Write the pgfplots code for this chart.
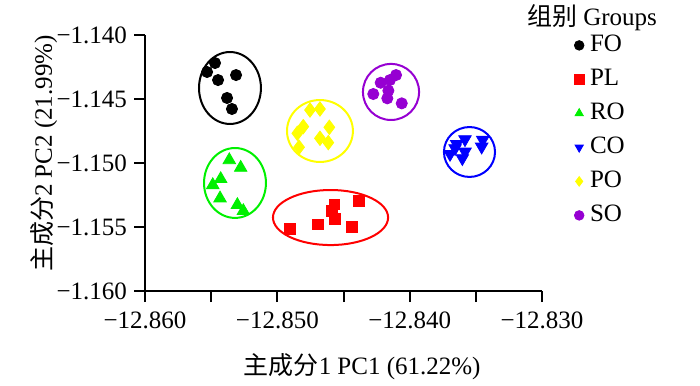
\documentclass[border=0pt]{standalone}
\usepackage{fontspec}
\setmainfont{Liberation Serif}
\newfontfamily\cjk{Noto Sans CJK SC}
\usepackage{pgfplots}
\pgfplotsset{compat=1.18}
\definecolor{cFO}{RGB}{0,0,0}
\definecolor{cPL}{RGB}{255,0,0}
\definecolor{cRO}{RGB}{0,240,0}
\definecolor{cCO}{RGB}{0,0,255}
\definecolor{cPO}{RGB}{255,255,0}
\definecolor{cSO}{RGB}{150,0,210}
\pgfplotsset{myleg/.style={only marks, legend image code/.code={\draw[##1,mark size=2.4pt] plot coordinates {(0pt,0pt)};}}}
\newcommand{\fs}{\fontsize{12.5}{14}\selectfont}
\begin{document}
\begin{tikzpicture}
\path[use as bounding box] (0,0) rectangle (350pt,192.5pt);
\begin{axis}[
  at={(72.5pt,47pt)}, anchor=south west,
  scale only axis, width=198.5pt, height=128pt,
  xmin=-12.86, xmax=-12.83, ymin=-1.16, ymax=-1.14,
  axis x line*=bottom, axis y line*=left,
  axis line style={-, line width=1pt},
  clip=false,
  xtick={-12.86,-12.85,-12.84,-12.83},
  xticklabels={−12.860,−12.850,−12.840,−12.830},
  minor xtick={-12.855,-12.845,-12.835},
  ytick={-1.16,-1.155,-1.15,-1.145,-1.14},
  yticklabels={−1.160,−1.155,−1.150,−1.145,−1.140},
  tick align=outside,
  major tick length=5.5pt, minor tick length=5.5pt,
  every tick/.style={black, line width=1pt},
  tick label style={font=\fs},
  xticklabel style={yshift=-1.5pt},
  xlabel={{\cjk 主成分}1 PC1 (61.22\%)},
  ylabel={{\cjk 主成分}2 PC2 (21.99\%)},
  label style={font=\fs},
  xlabel style={at={(axis description cs:0.547,-0.297)}, anchor=center},
  ylabel style={at={(axis description cs:-0.254,0.537)}, anchor=center},
  legend style={at={(rel axis cs:1.0806,1.0078)}, anchor=north west,
    draw=none, fill=none, inner sep=0pt, row sep=5pt, column sep=0pt,
    font=\fs,
    nodes={inner ysep=0pt, inner xsep=3pt, text height=9pt, text depth=3pt}},
  legend cell align=left,
]
\addplot[myleg, mark=*, mark size=2.8pt, color=cFO] coordinates {
(-12.85471,-1.14219) (-12.85531,-1.14289) (-12.85448,-1.14352)
(-12.85312,-1.14313) (-12.85380,-1.14492) (-12.85343,-1.14578)};
\addlegendentry{FO}
\addplot[myleg, mark=square*, mark size=2.7pt, color=cPL] coordinates {
(-12.84904,-1.15516) (-12.84695,-1.15479) (-12.84569,-1.15323)
(-12.84585,-1.15375) (-12.84564,-1.15438) (-12.84438,-1.15498)
(-12.84383,-1.15297)};
\addlegendentry{PL}
\addplot[myleg, mark=triangle*, mark size=3.6pt, color=cRO] coordinates {
(-12.85363,-1.14977) (-12.85277,-1.15037) (-12.85428,-1.15125)
(-12.85488,-1.15172) (-12.85433,-1.15276) (-12.85302,-1.15328)
(-12.85257,-1.15375)};
\addlegendentry{RO}
\addplot[myleg, mark=triangle*, mark options={rotate=180}, mark size=3.6pt, color=cCO] coordinates {
(-12.83582,-1.14815) (-12.83645,-1.14852) (-12.83657,-1.14885)
(-12.83582,-1.14912) (-12.83695,-1.14930) (-12.83602,-1.14963)
(-12.83448,-1.14820) (-12.83456,-1.14873)};
\addlegendentry{CO}
\addplot[myleg, mark=diamond*, mark size=3.6pt, color=cPO] coordinates {
(-12.84753,-1.14586) (-12.84678,-1.14578) (-12.84804,-1.14716)
(-12.84607,-1.14721) (-12.84849,-1.14768) (-12.84678,-1.14807)
(-12.84615,-1.14841) (-12.84836,-1.14877)};
\addlegendentry{PO}
\addplot[myleg, mark=*, mark size=2.8pt, color=cSO] coordinates {
(-12.84103,-1.14313) (-12.84149,-1.14352) (-12.84219,-1.14373)
(-12.84161,-1.14435) (-12.84275,-1.14461) (-12.84169,-1.14495)
(-12.84060,-1.14534)};
\addlegendentry{SO}
\draw[cFO, line width=1pt] (axis cs:-12.85358,-1.14414) ellipse [x radius=0.00234, y radius=0.00281];
\draw[cPL, line width=1pt] (axis cs:-12.84598,-1.15426) ellipse [x radius=0.00435, y radius=0.00215];
\draw[cRO, line width=1pt] (axis cs:-12.85320,-1.15156) ellipse [x radius=0.00234, y radius=0.00273];
\draw[cCO, line width=1pt] (axis cs:-12.83548,-1.14914) ellipse [x radius=0.00193, y radius=0.00195];
\draw[cPO, line width=1pt] (axis cs:-12.84678,-1.14750) ellipse [x radius=0.00249, y radius=0.00242];
\draw[cSO, line width=1pt] (axis cs:-12.84141,-1.14445) ellipse [x radius=0.00212, y radius=0.00219];
\node[font=\fs, inner sep=0pt] at (rel axis cs:1.126,1.068) {{\cjk 组别} Groups};
\end{axis}
\end{tikzpicture}
\end{document}
